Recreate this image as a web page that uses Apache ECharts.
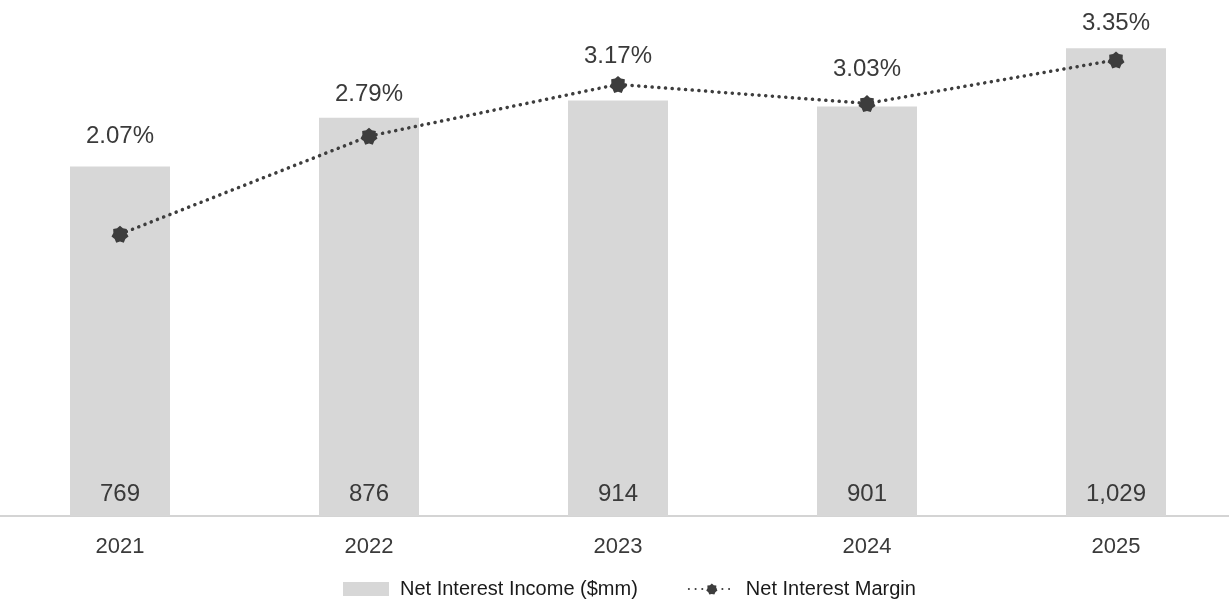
<!DOCTYPE html>
<html>
<head>
<meta charset="utf-8">
<script src="https://cdn.jsdelivr.net/npm/echarts@6/dist/echarts.min.js"></script>
<style>
html,body{margin:0;padding:0;background:#fff;}
#chart{width:1229px;height:603px;}
</style>
</head>
<body>
<div id="chart"></div>
<script>
const years = ['2021', '2022', '2023', '2024', '2025'];
const netInterestIncome = [769, 876, 914, 901, 1029];
const netInterestMargin = [2.07, 2.79, 3.17, 3.03, 3.35];
const incomeName = 'Net Interest Income ($mm)';
const marginName = 'Net Interest Margin';

// label vertical offsets (layout only)
const marginLabelOffsets = [-98, -42, -28, -34, -37];

// rounded blob-star marker path
function starPath() {
  const pts = [];
  const n = 7;
  for (let i = 0; i < n * 2; i++) {
    const r = i % 2 === 0 ? 10 : 7.8;
    const a = Math.PI * i / n - Math.PI / 2;
    pts.push((r * Math.cos(a)).toFixed(2) + ',' + (r * Math.sin(a)).toFixed(2));
  }
  return 'path://M' + pts.join('L') + 'Z';
}
const starSymbol = starPath();

const chart = echarts.init(document.getElementById('chart'));
const textColor = '#3a3a3a';
const font = '"Liberation Sans", Arial, Helvetica, sans-serif';

chart.setOption({
  animation: false,
  textStyle: { fontFamily: font },
  grid: { left: -4.5, width: 1245, top: 0, height: 516, outerBoundsMode: 'none', containLabel: false },
  legend: {
    top: 574,
    left: 338,
    itemWidth: 46,
    itemHeight: 14,
    itemGap: 50,
    textStyle: { fontSize: 20, color: '#1a1a1a', fontFamily: font, padding: [0, 0, 0, 6] },
    data: [
      { name: incomeName, icon: 'rect' },
      { name: marginName }
    ]
  },
  xAxis: {
    type: 'category',
    data: years,
    axisLine: { show: true, lineStyle: { color: '#d4d4d4', width: 2 } },
    axisTick: { show: false },
    axisLabel: { fontSize: 22, color: textColor, margin: 20 }
  },
  yAxis: [
    { type: 'value', min: 0, max: 1135, show: false, splitLine: { show: false } },
    { type: 'value', min: 0, max: 3.79, show: false, splitLine: { show: false } }
  ],
  series: [
    {
      name: incomeName,
      type: 'bar',
      data: netInterestIncome,
      barWidth: 100,
      itemStyle: { color: '#d7d7d7' },
      label: {
        show: true,
        position: 'insideBottom',
        distance: 10,
        fontSize: 24,
        color: textColor,
        formatter: p => p.value.toLocaleString('en-US')
      },
      z: 2
    },
    {
      name: marginName,
      type: 'line',
      yAxisIndex: 1,
      data: netInterestMargin.map((v, i) => ({
        value: v,
        label: { offset: [0, marginLabelOffsets[i]] }
      })),
      symbol: starSymbol,
      symbolSize: 17,
      lineStyle: { color: '#3d3d3d', width: 3.5, type: [0.1, 6.6], cap: 'round' },
      itemStyle: { color: '#3d3d3d' },
      label: {
        show: true,
        position: 'inside',
        fontSize: 24,
        color: textColor,
        formatter: p => p.value.toFixed(2) + '%'
      },
      z: 5
    }
  ]
});
</script>
</body>
</html>
